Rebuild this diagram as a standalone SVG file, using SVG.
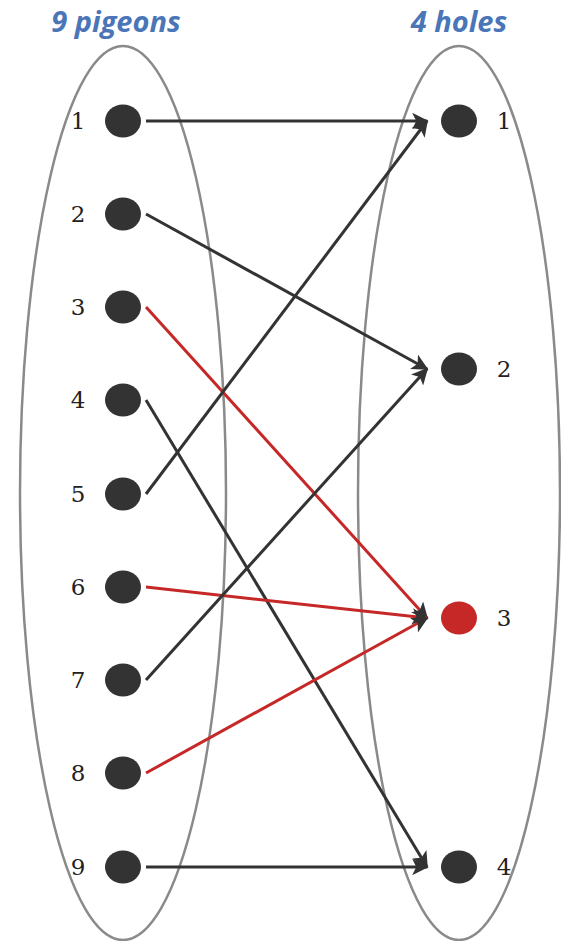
<svg xmlns="http://www.w3.org/2000/svg" width="561" height="941" viewBox="0 0 561 941">
<style>
.set{fill:none;stroke:#8a8a8a;stroke-width:2.5}
.dot{fill:#333333}
.hot{fill:#c62828}
.lbl{font-family:"DejaVu Serif","Liberation Serif",serif;font-size:23px;fill:#222;text-anchor:middle}
.ttl{font-family:"Open Sans","Liberation Sans",sans-serif;font-style:italic;font-weight:bold;font-size:29px;fill:#4a76b8;text-anchor:middle}
.e{fill:none;stroke:#333333;stroke-width:3;marker-end:url(#ah)}
.r{stroke:#c62828}
</style>
<defs>
<marker id="ah" viewBox="0 0 10 10" refX="9" refY="5" markerWidth="5.5" markerHeight="5.5" markerUnits="strokeWidth" orient="auto">
<path d="M0,0 L10,5 L0,10 L2.5,5 z" fill="#333333"/>
</marker>
</defs>
<text class="ttl" x="116" y="32">9 pigeons</text>
<text class="ttl" x="459" y="32">4 holes</text>
<g id="sets">
<ellipse class="set" cx="123" cy="493" rx="103" ry="447"/>
<ellipse class="set" cx="459" cy="493" rx="101" ry="447"/>
</g>
<g id="connectors">
<line class="e" x1="146" y1="121" x2="427" y2="121"/>
<line class="e" x1="146" y1="214" x2="427" y2="369"/>
<line class="e r" x1="146" y1="307" x2="427" y2="618"/>
<line class="e" x1="146" y1="400" x2="427" y2="867"/>
<line class="e" x1="146" y1="494" x2="427" y2="121"/>
<line class="e r" x1="146" y1="587" x2="427" y2="618"/>
<line class="e" x1="146" y1="680" x2="427" y2="369"/>
<line class="e r" x1="146" y1="773" x2="427" y2="618"/>
<line class="e" x1="146" y1="867" x2="427" y2="867"/>
</g>
<g id="p1"><ellipse class="dot" cx="123" cy="121" rx="18" ry="16.5"/><text class="lbl" x="78" y="129">1</text></g>
<g id="p2"><ellipse class="dot" cx="123" cy="214" rx="18" ry="16.5"/><text class="lbl" x="78" y="222">2</text></g>
<g id="p3"><ellipse class="dot" cx="123" cy="307" rx="18" ry="16.5"/><text class="lbl" x="78" y="315">3</text></g>
<g id="p4"><ellipse class="dot" cx="123" cy="400" rx="18" ry="16.5"/><text class="lbl" x="78" y="408">4</text></g>
<g id="p5"><ellipse class="dot" cx="123" cy="494" rx="18" ry="16.5"/><text class="lbl" x="78" y="502">5</text></g>
<g id="p6"><ellipse class="dot" cx="123" cy="587" rx="18" ry="16.5"/><text class="lbl" x="78" y="595">6</text></g>
<g id="p7"><ellipse class="dot" cx="123" cy="680" rx="18" ry="16.5"/><text class="lbl" x="78" y="688">7</text></g>
<g id="p8"><ellipse class="dot" cx="123" cy="773" rx="18" ry="16.5"/><text class="lbl" x="78" y="781">8</text></g>
<g id="p9"><ellipse class="dot" cx="123" cy="867" rx="18" ry="16.5"/><text class="lbl" x="78" y="875">9</text></g>
<g id="h1"><ellipse class="dot" cx="459" cy="121" rx="18" ry="16.5"/><text class="lbl" x="504" y="129">1</text></g>
<g id="h2"><ellipse class="dot" cx="459" cy="369" rx="18" ry="16.5"/><text class="lbl" x="504" y="377">2</text></g>
<g id="h3"><ellipse class="hot" cx="459" cy="618" rx="18" ry="16.5"/><text class="lbl" x="504" y="626">3</text></g>
<g id="h4"><ellipse class="dot" cx="459" cy="867" rx="18" ry="16.5"/><text class="lbl" x="504" y="875">4</text></g>
</svg>
